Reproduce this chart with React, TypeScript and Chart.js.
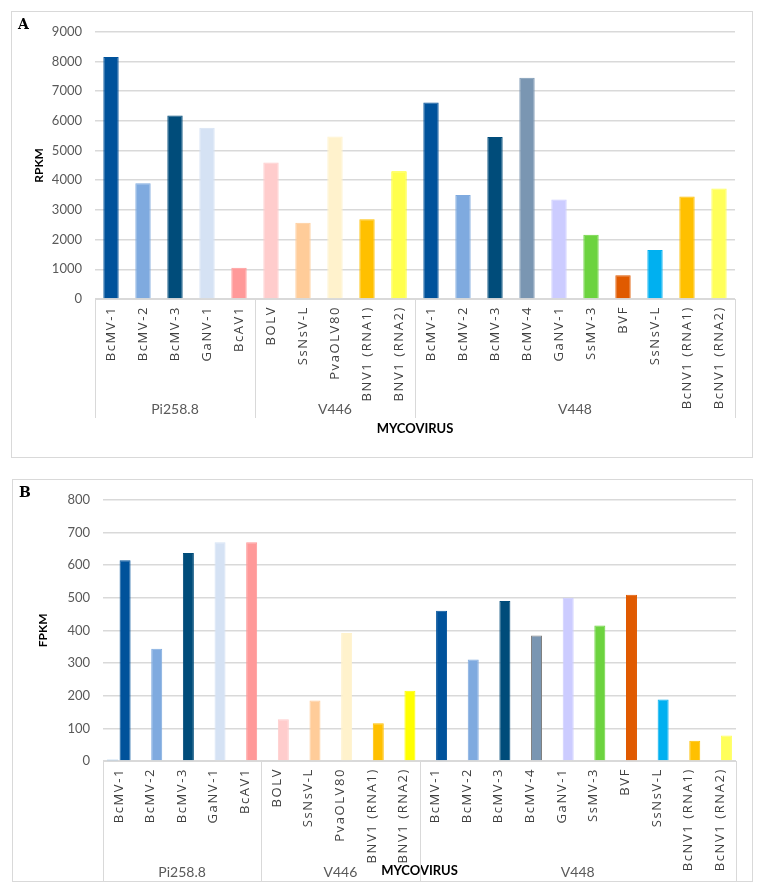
import React, { useEffect, useRef } from "react";
import { Chart, registerables } from "chart.js";
Chart.register(...registerables);

const categories = [
  "BcMV-1", "BcMV-2", "BcMV-3", "GaNV-1", "BcAV1",
  "BOLV", "SsNsV-L", "PvaOLV80", "BNV1 (RNA1)", "BNV1 (RNA2)",
  "BcMV-1", "BcMV-2", "BcMV-3", "BcMV-4", "GaNV-1", "SsMV-3", "BVF", "SsNsV-L", "BcNV1 (RNA1)", "BcNV1 (RNA2)",
];
const groupNames = ["Pi258.8", "V446", "V448"];
const groupSizes = [5, 5, 10];

const rpkmValues = [8150, 3900, 6180, 5770, 1050, 4600, 2570, 5470, 2690, 4300, 6620, 3500, 5460, 7450, 3350, 2160, 800, 1650, 3450, 3720];
const fpkmValues = [615, 344, 637, 670, 670, 128, 185, 392, 116, 215, 460, 311, 490, 384, 500, 415, 509, 188, 62, 78];
const fpkmSmallValues = [4, null, null, null, null, null, null, null, null, null, null, null, null, null, null, null, null, null, null, null];

const colorsA = ["#00529B", "#7FAADF", "#004C7A", "#D5E2F4", "#FF9999", "#FFCCCC", "#FFCC99", "#FFF2CC", "#FFC000", "#FFFF4D", "#00529B", "#7FAADF", "#004C7A", "#7A96B2", "#CCCCFF", "#6CD33F", "#E05A00", "#00B0F0", "#FFC000", "#FFFF5A"];
const bordersA = ["#00529B", "#7FAADF", "#004C7A", "#D5E2F4", "#FF9999", "#FFCCCC", "#FFCC99", "#FFF2CC", "#FFC000", "#FFFF00", "#00529B", "#7FAADF", "#004C7A", "#7A96B2", "#CCCCFF", "#6CD33F", "#E05A00", "#00B0F0", "#FFC000", "#FFFF5A"];
const colorsB = ["#00529B", "#7FAADF", "#004C7A", "#D5E2F4", "#FF9999", "#FFCCCC", "#FFCC99", "#FFF2CC", "#FFC000", "#FFFF00", "#00529B", "#7FAADF", "#004C7A", "#7A96B2", "#CCCCFF", "#6CD33F", "#E05A00", "#00B0F0", "#FFC000", "#FFFF5A"];
const bordersB = ["#00529B", "#7FAADF", "#004C7A", "#D5E2F4", "#FF9999", "#FFCCCC", "#FFCC99", "#FFF2CC", "#FFC000", "#FFFF00", "#00529B", "#7FAADF", "#004C7A", "#7F7F7F", "#CCCCFF", "#6CD33F", "#E05A00", "#00B0F0", "#FFC000", "#FFFF5A"];

const FONT = "Lato, 'Open Sans', sans-serif";
const TICK_FONT = "'Open Sans', sans-serif";

type Cfg = {
  letter: string;
  groupLineBottom: number;
  groupLabelY: number;
};

function makePlugin(cfg: Cfg) {
  return {
    id: "groupsAndFrame",
    beforeDraw(chart: any) {
      const ctx = chart.ctx;
      ctx.save();
      ctx.fillStyle = "#ffffff";
      ctx.fillRect(0, 0, chart.width, chart.height);
      ctx.strokeStyle = "#d9d9d9";
      ctx.lineWidth = 1;
      ctx.strokeRect(0.5, 0.5, chart.width - 1, chart.height - 1);
      ctx.restore();
      ctx.letterSpacing = "0px";
    },
    afterDatasetsDraw(chart: any) {
      // category tick labels (drawn in a later layer) get the wide Excel-like spacing
      chart.ctx.letterSpacing = "1.6px";
    },
    afterDraw(chart: any) {
      const ctx = chart.ctx;
      ctx.letterSpacing = "0px";
      const x = chart.scales.x;
      const step = (x.right - x.left) / categories.length;
      const top = chart.chartArea.bottom;
      ctx.save();
      ctx.strokeStyle = "#d9d9d9";
      ctx.lineWidth = 1;
      let idx = 0;
      ctx.fillStyle = "#595959";
      ctx.font = `14px ${FONT}`;
      ctx.textAlign = "center";
      ctx.textBaseline = "middle";
      groupSizes.forEach((size, g) => {
        const x0 = x.getPixelForValue(idx) - step / 2;
        const x1 = x.getPixelForValue(idx + size - 1) + step / 2;
        [x0, x1].forEach((xx) => {
          const px = Math.round(xx) + 0.5;
          ctx.beginPath();
          ctx.moveTo(px, top);
          ctx.lineTo(px, cfg.groupLineBottom);
          ctx.stroke();
        });
        ctx.fillText(groupNames[g], (x0 + x1) / 2, cfg.groupLabelY);
        idx += size;
      });
      ctx.fillStyle = "#000000";
      ctx.font = `bold 14px 'DejaVu Serif', 'Liberation Serif', serif`;
      ctx.textAlign = "left";
      ctx.fillText(cfg.letter, 7, 14);
      ctx.restore();
    },
  };
}

type PanelProps = {
  left: number;
  top: number;
  width: number;
  height: number;
  datasets: any[];
  yMax: number;
  yStep: number;
  yTitle: string;
  yTitlePad: number;
  xTitlePad: number;
  yAxisWidth: number;
  xAxisHeight: number;
  padTop: number;
  padRight: number;
  letter: string;
  groupLineBottom: number;
  groupLabelY: number;
};

function Panel(p: PanelProps) {
  const ref = useRef<HTMLCanvasElement | null>(null);
  useEffect(() => {
    if (!ref.current) return;
    const chart = new Chart(ref.current, {
      type: "bar",
      data: { labels: categories, datasets: p.datasets },
      options: {
        animation: false,
        responsive: false,
        devicePixelRatio: 1,
        layout: { padding: { top: p.padTop, right: p.padRight, left: 0, bottom: 0 } },
        plugins: { legend: { display: false }, tooltip: { enabled: false } },
        scales: {
          x: {
            grid: { display: false, drawTicks: false },
            border: { display: true, color: "#d9d9d9", width: 1 },
            ticks: {
              z: 1,
              autoSkip: false,
              minRotation: 90,
              maxRotation: 90,
              padding: 7,
              color: "#404040",
              font: { family: TICK_FONT, size: 13 },
            },
            title: {
              display: true,
              text: "MYCOVIRUS",
              color: "#000000",
              font: { family: FONT, size: 13, weight: "bold" },
              padding: { top: 0, bottom: p.xTitlePad },
            },
            afterFit: (s: any) => {
              s.height = p.xAxisHeight;
            },
          },
          y: {
            min: 0,
            max: p.yMax,
            grid: { color: "#d9d9d9", lineWidth: 1.5, drawTicks: false },
            border: { display: false },
            ticks: {
              stepSize: p.yStep,
              padding: 13,
              color: "#595959",
              font: { family: FONT, size: 13 },
              callback: (v: any) => String(v),
            },
            title: {
              display: true,
              text: p.yTitle,
              color: "#000000",
              font: { family: FONT, size: 12, weight: "bold" },
              padding: { top: p.yTitlePad, bottom: 0 },
            },
            afterFit: (s: any) => {
              s.width = p.yAxisWidth;
            },
          },
        },
      } as any,
      plugins: [makePlugin({ letter: p.letter, groupLineBottom: p.groupLineBottom, groupLabelY: p.groupLabelY })],
    });
    return () => chart.destroy();
  }, []);
  return (
    <canvas
      ref={ref}
      width={p.width}
      height={p.height}
      style={{ position: "absolute", left: p.left, top: p.top, width: p.width, height: p.height, display: "block" }}
    />
  );
}

export default function App() {
  const datasetsA = [
    {
      label: "RPKM",
      data: rpkmValues,
      backgroundColor: colorsA,
      borderColor: bordersA,
      borderWidth: 1,
      categoryPercentage: 1,
      barPercentage: 0.48,
    },
  ];
  const datasetsB = [
    {
      label: "minor",
      data: fpkmSmallValues,
      backgroundColor: "#9DC3E6",
      borderWidth: 0,
      categoryPercentage: 0.79,
      barPercentage: 0.88,
    },
    {
      label: "FPKM",
      data: fpkmValues,
      backgroundColor: colorsB,
      borderColor: bordersB,
      borderWidth: 1,
      categoryPercentage: 0.79,
      barPercentage: 0.88,
    },
  ];
  return (
    <div style={{ position: "absolute", left: 0, top: 0, width: 765, height: 892, background: "#ffffff" }}>
      <Panel
        left={11}
        top={11}
        width={742}
        height={447}
        datasets={datasetsA}
        yMax={9000}
        yStep={1000}
        yTitle="RPKM"
        yTitlePad={21}
        xTitlePad={21}
        yAxisWidth={84}
        xAxisHeight={159}
        padTop={17}
        padRight={18}
        letter="A"
        groupLineBottom={407}
        groupLabelY={398}
      />
      <Panel
        left={12}
        top={479}
        width={741}
        height={403}
        datasets={datasetsB}
        yMax={800}
        yStep={100}
        yTitle="FPKM"
        yTitlePad={24}
        xTitlePad={3}
        yAxisWidth={91}
        xAxisHeight={121}
        padTop={18}
        padRight={17}
        letter="B"
        groupLineBottom={402}
        groupLabelY={393}
      />
    </div>
  );
}
